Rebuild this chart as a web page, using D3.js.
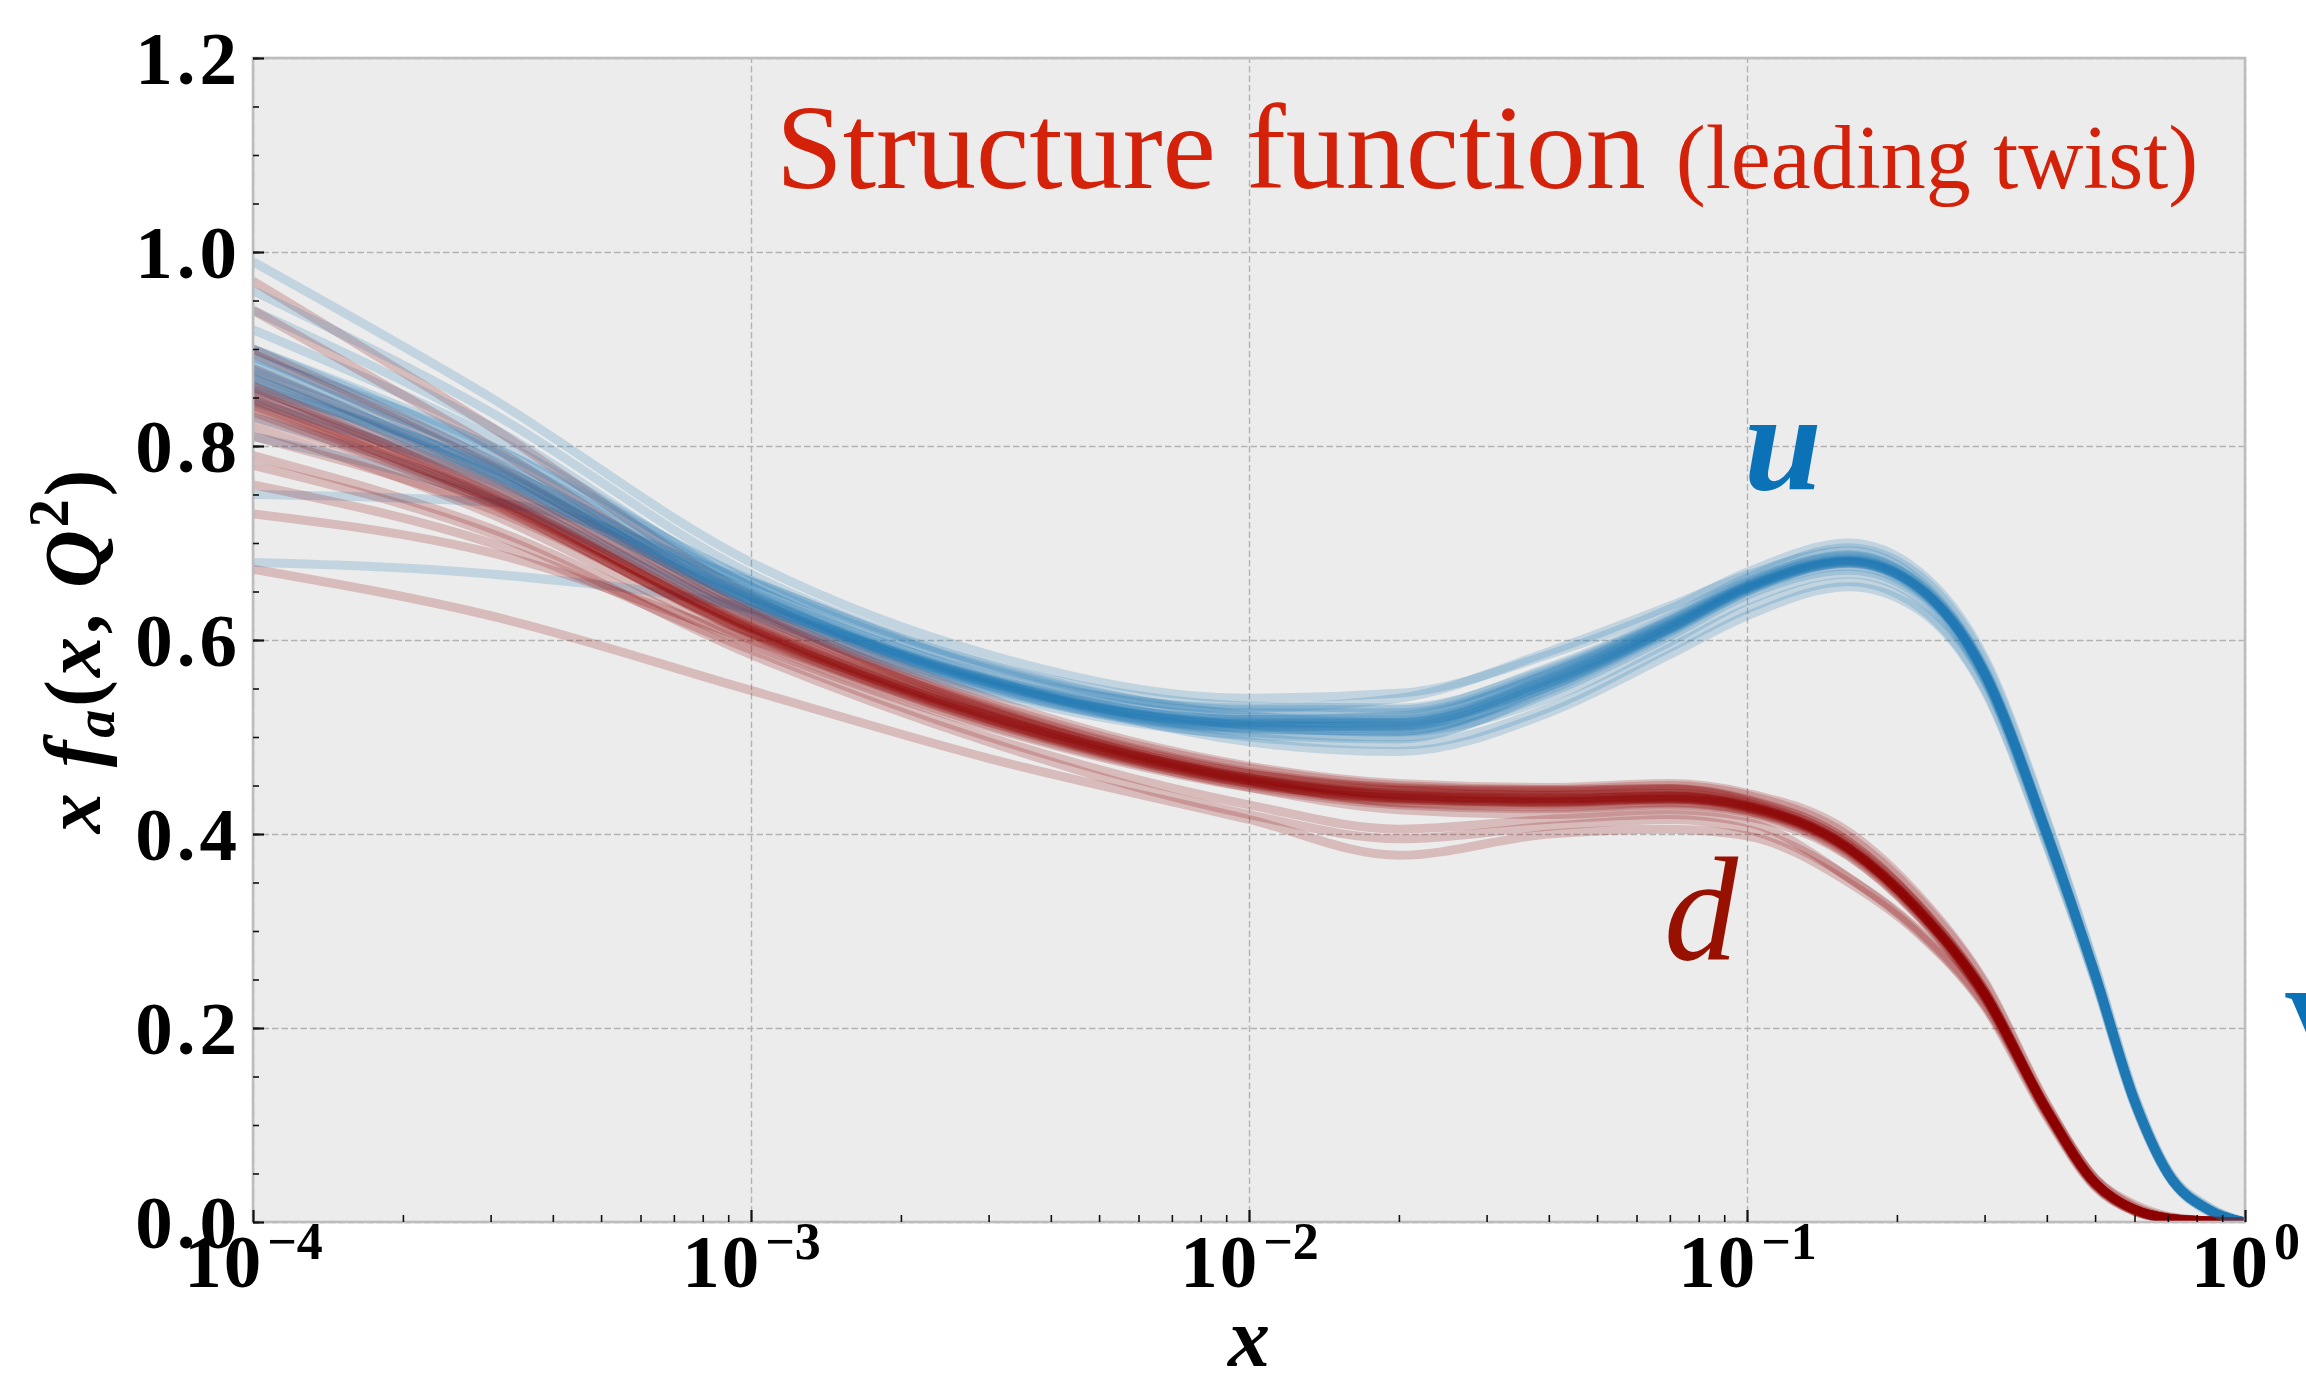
<!DOCTYPE html>
<html>
<head>
<meta charset="utf-8">
<script src="https://cdn.jsdelivr.net/npm/d3@7"></script>
<style>
  body { margin: 0; background: #fff; }
  svg { display: block; }
</style>
</head>
<body>
<script>
// x values at which every replica is sampled
const xGrid = [1e-4, 3e-4, 1e-3, 3e-3, 1e-2, 2e-2, 4e-2, 7e-2, 0.1, 0.16, 0.22, 0.3, 0.4, 0.5, 0.6, 0.7, 0.85, 1.0];

// u replicas, x f_u(x, Q^2)
const uReplicas = [
  [0.875, 0.775, 0.640, 0.555, 0.515, 0.515, 0.560, 0.615, 0.655, 0.682, 0.655, 0.565, 0.400, 0.255, 0.125, 0.050, 0.012, 0],
  [0.900, 0.795, 0.650, 0.560, 0.518, 0.520, 0.566, 0.620, 0.660, 0.688, 0.660, 0.569, 0.403, 0.256, 0.126, 0.051, 0.012, 0],
  [0.850, 0.760, 0.632, 0.550, 0.508, 0.506, 0.552, 0.610, 0.650, 0.676, 0.650, 0.561, 0.397, 0.254, 0.124, 0.050, 0.011, 0],
  [0.920, 0.810, 0.660, 0.572, 0.528, 0.528, 0.572, 0.624, 0.664, 0.695, 0.668, 0.578, 0.412, 0.262, 0.130, 0.053, 0.014, 0],
  [0.830, 0.750, 0.628, 0.548, 0.505, 0.500, 0.545, 0.604, 0.646, 0.672, 0.647, 0.559, 0.395, 0.251, 0.122, 0.049, 0.011, 0],
  [0.990, 0.850, 0.680, 0.585, 0.540, 0.545, 0.585, 0.632, 0.670, 0.700, 0.672, 0.582, 0.415, 0.264, 0.131, 0.054, 0.015, 0],
  [0.680, 0.668, 0.632, 0.560, 0.520, 0.518, 0.562, 0.617, 0.656, 0.683, 0.656, 0.566, 0.401, 0.255, 0.125, 0.050, 0.012, 0],
  [0.750, 0.742, 0.660, 0.570, 0.525, 0.525, 0.568, 0.621, 0.658, 0.686, 0.659, 0.567, 0.400, 0.254, 0.124, 0.049, 0.011, 0],
  [0.880, 0.790, 0.648, 0.552, 0.500, 0.492, 0.530, 0.592, 0.632, 0.660, 0.635, 0.550, 0.390, 0.249, 0.121, 0.048, 0.010, 0],
  [0.860, 0.780, 0.650, 0.565, 0.530, 0.540, 0.588, 0.635, 0.667, 0.692, 0.663, 0.571, 0.404, 0.257, 0.127, 0.051, 0.012, 0],
  [0.940, 0.820, 0.655, 0.562, 0.512, 0.505, 0.540, 0.598, 0.640, 0.668, 0.643, 0.558, 0.396, 0.252, 0.123, 0.050, 0.012, 0],
  [0.890, 0.800, 0.662, 0.575, 0.532, 0.530, 0.570, 0.622, 0.660, 0.687, 0.659, 0.569, 0.402, 0.256, 0.125, 0.051, 0.013, 0],
  [0.810, 0.745, 0.625, 0.545, 0.502, 0.498, 0.548, 0.608, 0.650, 0.680, 0.655, 0.566, 0.402, 0.257, 0.127, 0.052, 0.013, 0],
  [0.870, 0.770, 0.638, 0.553, 0.510, 0.512, 0.558, 0.612, 0.652, 0.679, 0.652, 0.563, 0.399, 0.254, 0.125, 0.050, 0.012, 0],
  [0.960, 0.835, 0.668, 0.575, 0.522, 0.515, 0.555, 0.612, 0.654, 0.681, 0.654, 0.565, 0.400, 0.255, 0.125, 0.050, 0.012, 0],
  [0.845, 0.765, 0.640, 0.558, 0.518, 0.522, 0.565, 0.619, 0.657, 0.685, 0.657, 0.567, 0.401, 0.255, 0.126, 0.051, 0.012, 0],
  [0.900, 0.800, 0.655, 0.560, 0.495, 0.485, 0.525, 0.585, 0.625, 0.655, 0.632, 0.548, 0.388, 0.248, 0.121, 0.048, 0.011, 0],
  [0.865, 0.772, 0.642, 0.556, 0.514, 0.514, 0.559, 0.614, 0.654, 0.681, 0.655, 0.565, 0.400, 0.255, 0.125, 0.050, 0.012, 0],
  [0.870, 0.778, 0.644, 0.557, 0.513, 0.511, 0.556, 0.613, 0.654, 0.682, 0.655, 0.565, 0.400, 0.255, 0.125, 0.050, 0.012, 0],
  [0.885, 0.782, 0.646, 0.558, 0.511, 0.508, 0.552, 0.610, 0.652, 0.680, 0.654, 0.564, 0.400, 0.255, 0.125, 0.050, 0.012, 0],
  [0.858, 0.770, 0.638, 0.554, 0.512, 0.510, 0.555, 0.612, 0.653, 0.681, 0.655, 0.565, 0.401, 0.256, 0.126, 0.050, 0.012, 0],
  [0.878, 0.776, 0.641, 0.556, 0.509, 0.506, 0.550, 0.608, 0.650, 0.679, 0.653, 0.564, 0.399, 0.254, 0.124, 0.050, 0.012, 0],
  [0.892, 0.786, 0.645, 0.559, 0.516, 0.516, 0.561, 0.616, 0.656, 0.683, 0.656, 0.566, 0.401, 0.255, 0.125, 0.050, 0.012, 0]
];

// d replicas, x f_d(x, Q^2)
const dReplicas = [
  [0.845, 0.745, 0.610, 0.520, 0.456, 0.439, 0.435, 0.437, 0.428, 0.385, 0.322, 0.235, 0.115, 0.040, 0.013, 0.004, 0.001, 0],
  [0.870, 0.765, 0.622, 0.530, 0.462, 0.445, 0.440, 0.442, 0.432, 0.390, 0.327, 0.238, 0.117, 0.041, 0.013, 0.004, 0.001, 0],
  [0.820, 0.730, 0.600, 0.512, 0.450, 0.433, 0.430, 0.433, 0.424, 0.380, 0.318, 0.232, 0.113, 0.039, 0.012, 0.004, 0.001, 0],
  [0.900, 0.785, 0.632, 0.535, 0.468, 0.450, 0.446, 0.450, 0.440, 0.398, 0.335, 0.246, 0.121, 0.044, 0.015, 0.005, 0.001, 0],
  [0.790, 0.715, 0.595, 0.510, 0.448, 0.430, 0.426, 0.430, 0.422, 0.378, 0.316, 0.230, 0.112, 0.038, 0.012, 0.003, 0.001, 0],
  [0.970, 0.820, 0.645, 0.540, 0.470, 0.452, 0.448, 0.452, 0.442, 0.402, 0.338, 0.248, 0.122, 0.045, 0.016, 0.005, 0.001, 0],
  [0.730, 0.690, 0.600, 0.515, 0.448, 0.425, 0.420, 0.425, 0.418, 0.377, 0.316, 0.231, 0.112, 0.038, 0.011, 0.003, 0.000, 0],
  [0.673, 0.625, 0.548, 0.478, 0.415, 0.378, 0.400, 0.405, 0.398, 0.350, 0.298, 0.222, 0.108, 0.036, 0.011, 0.003, 0.000, 0],
  [0.760, 0.700, 0.590, 0.500, 0.430, 0.405, 0.415, 0.420, 0.412, 0.355, 0.302, 0.225, 0.110, 0.037, 0.011, 0.003, 0.000, 0],
  [0.855, 0.755, 0.615, 0.525, 0.460, 0.445, 0.445, 0.447, 0.435, 0.392, 0.328, 0.239, 0.117, 0.041, 0.013, 0.004, 0.001, 0],
  [0.940, 0.800, 0.635, 0.530, 0.458, 0.440, 0.437, 0.440, 0.430, 0.386, 0.323, 0.236, 0.115, 0.040, 0.013, 0.004, 0.001, 0],
  [0.880, 0.770, 0.625, 0.528, 0.455, 0.432, 0.428, 0.432, 0.424, 0.383, 0.321, 0.234, 0.115, 0.040, 0.013, 0.004, 0.001, 0],
  [0.810, 0.735, 0.608, 0.522, 0.458, 0.442, 0.440, 0.443, 0.432, 0.387, 0.324, 0.236, 0.116, 0.041, 0.013, 0.004, 0.001, 0],
  [0.840, 0.742, 0.606, 0.518, 0.454, 0.437, 0.433, 0.436, 0.427, 0.384, 0.322, 0.235, 0.115, 0.040, 0.013, 0.004, 0.001, 0],
  [0.780, 0.710, 0.585, 0.495, 0.420, 0.395, 0.408, 0.415, 0.405, 0.355, 0.300, 0.224, 0.118, 0.045, 0.018, 0.006, 0.001, 0],
  [0.860, 0.760, 0.618, 0.527, 0.462, 0.447, 0.443, 0.446, 0.434, 0.389, 0.325, 0.236, 0.115, 0.040, 0.013, 0.004, 0.001, 0],
  [0.830, 0.740, 0.605, 0.516, 0.452, 0.436, 0.432, 0.435, 0.426, 0.382, 0.319, 0.233, 0.114, 0.040, 0.012, 0.004, 0.001, 0],
  [0.895, 0.780, 0.628, 0.532, 0.464, 0.448, 0.445, 0.447, 0.436, 0.392, 0.328, 0.239, 0.117, 0.041, 0.013, 0.004, 0.001, 0],
  [0.848, 0.748, 0.612, 0.521, 0.455, 0.438, 0.434, 0.437, 0.428, 0.385, 0.322, 0.235, 0.115, 0.040, 0.013, 0.004, 0.001, 0],
  [0.835, 0.740, 0.607, 0.519, 0.453, 0.437, 0.436, 0.439, 0.429, 0.386, 0.323, 0.235, 0.115, 0.040, 0.013, 0.004, 0.001, 0],
  [0.862, 0.752, 0.614, 0.523, 0.457, 0.440, 0.436, 0.438, 0.429, 0.385, 0.322, 0.235, 0.115, 0.040, 0.013, 0.004, 0.001, 0],
  [0.852, 0.750, 0.611, 0.518, 0.452, 0.435, 0.433, 0.436, 0.427, 0.384, 0.321, 0.234, 0.115, 0.040, 0.013, 0.004, 0.001, 0],
  [0.842, 0.746, 0.613, 0.522, 0.458, 0.441, 0.437, 0.439, 0.430, 0.386, 0.323, 0.236, 0.116, 0.041, 0.013, 0.004, 0.001, 0]
];

// axis ticks
const yTicks = [0, 0.2, 0.4, 0.6, 0.8, 1.0, 1.2];
const yMinor = d3.range(0, 1.2001, 0.05);
const xTicks = [1e-4, 1e-3, 1e-2, 1e-1, 1];
const xTickExp = ["\u22124", "\u22123", "\u22122", "\u22121", "0"];

// layout
const W = 2306, H = 1383;
const M = { left: 253, right: 2245, top: 58, bottom: 1222 };
const tickFont = "'Liberation Serif', 'Times New Roman', serif";

const svg = d3.select('body').append('svg')
  .attr('width', W)
  .attr('height', H)
  .style('background', '#fff');

const xScale = d3.scaleLog().domain([1e-4, 1]).range([M.left, M.right]);
const yScale = d3.scaleLinear().domain([0, 1.2]).range([M.bottom, M.top]);

// plot background
svg.append('rect')
  .attr('x', M.left).attr('y', M.top)
  .attr('width', M.right - M.left).attr('height', M.bottom - M.top)
  .attr('fill', '#ececec');

// grid lines
svg.append('g')
  .attr('class', 'grid')
  .attr('transform', `translate(0, ${M.bottom})`)
  .call(d3.axisBottom(xScale).tickValues(xTicks).tickSize(-(M.bottom - M.top)).tickFormat(''));
svg.append('g')
  .attr('class', 'grid')
  .attr('transform', `translate(${M.left}, 0)`)
  .call(d3.axisLeft(yScale).tickValues(yTicks).tickSize(-(M.right - M.left)).tickFormat(''));
svg.selectAll('.grid .domain').remove();
svg.selectAll('.grid line')
  .attr('stroke', '#b3b3b3')
  .attr('stroke-width', 1.4)
  .attr('stroke-dasharray', '6.5,3');

// title and flavour labels (under the curves)
svg.append('text')
  .attr('x', 776).attr('y', 188)
  .attr('fill', '#d4220a')
  .style('font-family', tickFont)
  .style('font-size', '120px')
  .text('Structure function')
  .append('tspan')
  .style('font-size', '90px')
  .attr('dx', 30)
  .text('(leading twist)');

svg.append('text')
  .attr('x', 1744).attr('y', 489)
  .attr('fill', '#0b72b8')
  .style('font-family', tickFont)
  .style('font-style', 'italic')
  .style('font-weight', 'bold')
  .style('font-size', '140px')
  .text('u');

svg.append('text')
  .attr('x', 1664).attr('y', 959)
  .attr('fill', '#981100')
  .style('font-family', tickFont)
  .style('font-style', 'italic')
  .style('font-size', '148px')
  .text('d');

svg.append('text')
  .attr('x', 2284).attr('y', 1072)
  .attr('fill', '#0b72b8')
  .style('font-family', tickFont)
  .style('font-weight', 'bold')
  .style('font-size', '120px')
  .text('V');

// replica curves
svg.append('clipPath').attr('id', 'plotclip')
  .append('rect')
  .attr('x', M.left).attr('y', M.top)
  .attr('width', M.right - M.left).attr('height', M.bottom - M.top);

const valueLine = d3.line()
  .x((d, i) => xScale(xGrid[i]))
  .y(d => yScale(d))
  .curve(d3.curveMonotoneX);

const curves = svg.append('g').attr('clip-path', 'url(#plotclip)');
uReplicas.forEach((rep, i) => {
  curves.append('path')
    .datum(rep)
    .attr('d', valueLine)
    .attr('fill', 'none')
    .attr('stroke', '#1f77b4')
    .attr('stroke-opacity', 0.2)
    .attr('stroke-width', 9)
    .attr('stroke-linejoin', 'round');
  curves.append('path')
    .datum(dReplicas[i])
    .attr('d', valueLine)
    .attr('fill', 'none')
    .attr('stroke', '#8b0000')
    .attr('stroke-opacity', 0.2)
    .attr('stroke-width', 9)
    .attr('stroke-linejoin', 'round');
});

// frame
svg.append('rect')
  .attr('x', M.left).attr('y', M.top)
  .attr('width', M.right - M.left).attr('height', M.bottom - M.top)
  .attr('fill', 'none')
  .attr('stroke', '#bdbdbd')
  .attr('stroke-width', 2.6);

// minor ticks (inward)
const xMinor = [];
[1e-4, 1e-3, 1e-2, 1e-1].forEach(dec => {
  for (let k = 2; k <= 9; k++) xMinor.push(k * dec);
});
svg.append('g')
  .attr('class', 'minor')
  .attr('transform', `translate(0, ${M.bottom})`)
  .call(d3.axisBottom(xScale).tickValues(xMinor).tickSize(-7).tickFormat(''));
svg.append('g')
  .attr('class', 'minor')
  .attr('transform', `translate(${M.left}, 0)`)
  .call(d3.axisLeft(yScale).tickValues(yMinor).tickSize(-6).tickFormat(''));
svg.selectAll('.minor .domain').remove();
svg.selectAll('.minor line').attr('stroke', '#111').attr('stroke-width', 1.6);

// major ticks and labels
const xAxis = svg.append('g')
  .attr('class', 'major')
  .attr('transform', `translate(0, ${M.bottom})`)
  .call(d3.axisBottom(xScale).tickValues(xTicks).tickSize(-12).tickFormat(''));
const yAxis = svg.append('g')
  .attr('class', 'major')
  .attr('transform', `translate(${M.left}, 0)`)
  .call(d3.axisLeft(yScale).tickValues(yTicks).tickSize(-11).tickPadding(12)
        .tickFormat(d3.format('.1f')));
svg.selectAll('.major .domain').remove();
svg.selectAll('.major line').attr('stroke', '#111').attr('stroke-width', 2.2);

yAxis.selectAll('text')
  .attr('dy', null)
  .attr('y', 25)
  .attr('fill', '#000')
  .style('font-family', tickFont)
  .style('font-weight', 'bold')
  .style('font-size', '75px')
  .style('letter-spacing', '4px');

xAxis.selectAll('.tick').each(function(d, i) {
  const t = d3.select(this).append('text')
    .attr('y', 65)
    .attr('text-anchor', 'middle')
    .attr('fill', '#000')
    .style('font-family', tickFont)
    .style('font-weight', 'bold')
    .style('font-size', '75px');
  t.append('tspan').style('letter-spacing', '2px').text('10');
  t.append('tspan')
    .attr('dy', -28)
    .attr('dx', 4)
    .style('font-size', '52px')
    .text(xTickExp[i]);
});

// axis titles
svg.append('text')
  .attr('x', (M.left + M.right) / 2).attr('y', 1366)
  .attr('text-anchor', 'middle')
  .style('font-family', tickFont)
  .style('font-style', 'italic')
  .style('font-weight', 'bold')
  .style('font-size', '84px')
  .text('x');

const yLab = svg.append('text')
  .attr('transform', `translate(100, ${(M.top + M.bottom) / 2 + 10}) rotate(-90)`)
  .attr('text-anchor', 'middle')
  .style('font-family', tickFont)
  .style('font-weight', 'bold')
  .style('font-size', '80px')
  .style('letter-spacing', '3px');
yLab.append('tspan').style('font-style', 'italic').text('x f');
yLab.append('tspan').style('font-style', 'italic').style('font-size', '56px').attr('dy', 14).text('a');
yLab.append('tspan').attr('dy', -14).text('(');
yLab.append('tspan').style('font-style', 'italic').text('x');
yLab.append('tspan').text(', ');
yLab.append('tspan').style('font-style', 'italic').text('Q');
yLab.append('tspan').style('font-size', '56px').attr('dy', -32).text('2');
yLab.append('tspan').attr('dy', 32).text(')');
</script>
</body>
</html>
